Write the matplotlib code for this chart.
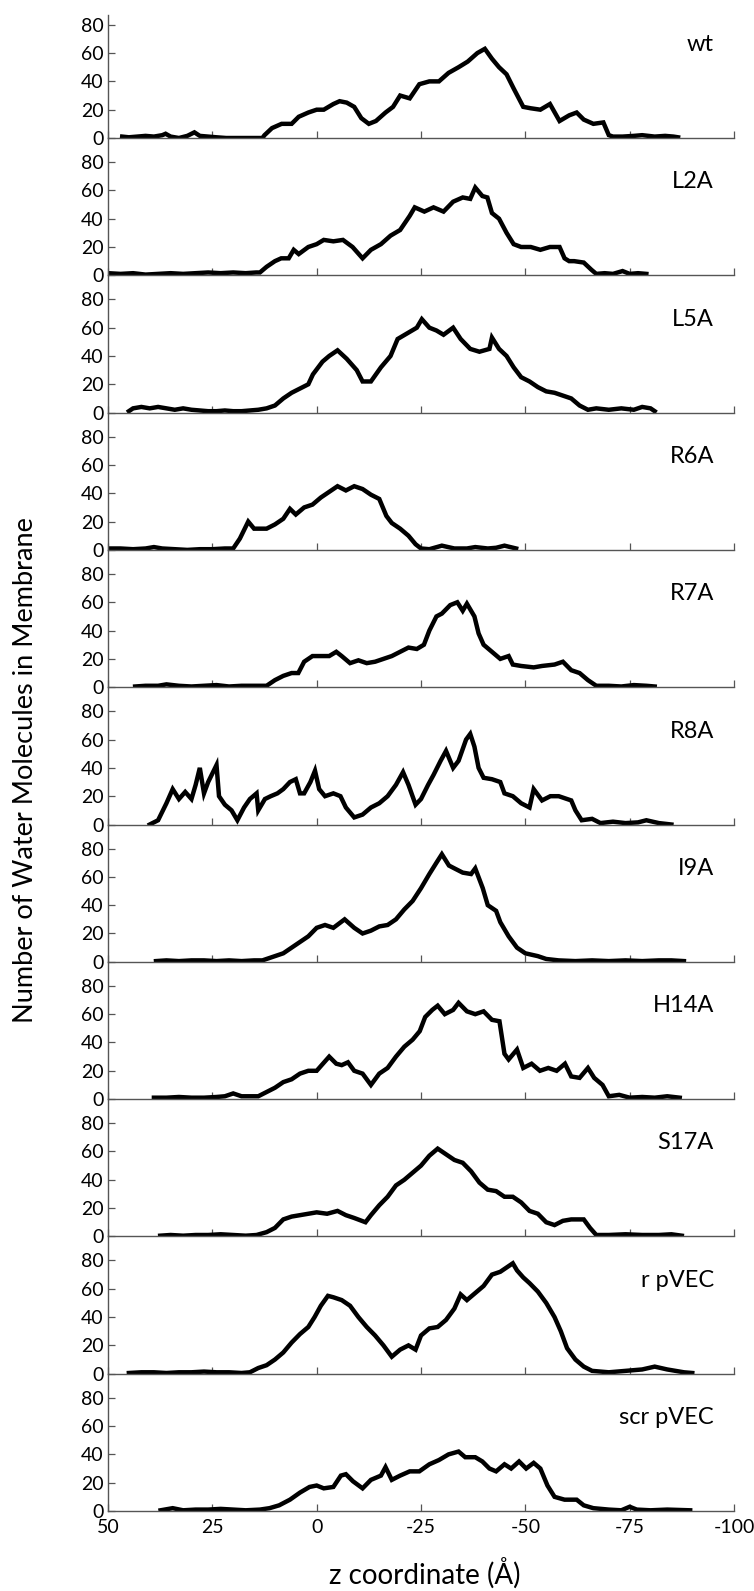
import matplotlib
matplotlib.use('Agg')
import matplotlib.pyplot as plt

plt.rcParams['font.family'] = ['Lato', 'DejaVu Sans']

# z coordinate (A) and number of water molecules
wt_z = [46.6, 45, 43, 41, 39, 37, 36.2, 35, 33, 31, 29.3, 28, 26, 24, 21.7, 19, 16, 13, 12.5, 10.7, 8.4, 6,
        4.3, 2, 0, -1.7, -4, -5.5, -7.2, -9, -10.7, -12.5, -14.2, -16.5, -18.3, -20, -22.3, -24.6, -27, -29.3,
        -31.6, -34, -36.2, -38.5, -40.3, -42, -43.7, -45.5, -47.2, -49.5, -51.3, -53.6, -55.9, -58.2, -60.5,
        -62.3, -64, -66.3, -68.7, -70, -71, -73.3, -76, -78, -81, -83.5, -85.5, -86.6]
wt_n = [1, 0.5, 1, 1.5, 1, 2, 3, 1, 0, 1.5, 4, 1.5, 1, 0.5, 0, 0, 0, 0, 2, 7, 10, 10, 15, 18, 20, 20, 24, 26,
        25, 22, 14, 10, 12, 18, 22, 30, 28, 38, 40, 40, 46, 50, 54, 60, 63, 56, 50, 45, 35, 22, 21, 20, 24, 12,
        16, 18, 13, 10, 11, 2, 1, 1, 1.5, 2, 1, 1.5, 1, 0.5]

l2a_z = [50, 47, 44, 41, 38, 35, 32, 29, 26, 23, 20, 17, 14.5, 13.6, 12, 10, 8.5, 6.7, 5.5, 4.3, 2, 0, -1.7,
         -4, -6.3, -8.6, -11, -13, -15.4, -17.7, -20, -22.3, -23.5, -25.8, -28, -30.4, -32.7, -35, -36.8, -38,
         -39.7, -40.9, -42, -43.7, -45.5, -47.2, -49, -51.3, -53.6, -55.9, -58.2, -59.4, -60.5, -61.7, -64,
         -65.8, -67, -69, -71, -73.3, -75, -77, -79]
l2a_n = [1.5, 1, 1.5, 0.5, 1, 1.5, 1, 1.5, 2, 1.5, 2, 1.5, 2, 2, 6, 10, 12, 12, 18, 15, 20, 22, 25, 24, 25,
         20, 12, 18, 22, 28, 32, 42, 48, 45, 48, 45, 52, 55, 54, 62, 56, 55, 44, 40, 30, 22, 20, 20, 18, 20,
         20, 12, 10, 10, 9, 4, 1, 1.5, 1, 3, 1, 1.5, 1]

l5a_z = [45, 44, 42, 40, 38, 36, 34, 32, 30, 28, 26, 24, 22, 20, 18, 16, 14, 12, 10, 8, 6, 4, 2, 0.9, -1.4,
         -3, -5, -7.2, -9.6, -11, -13, -15.4, -17.7, -19.4, -21.7, -24, -25.2, -27, -28.7, -30.4, -32.7, -34.5,
         -36.8, -39, -41.4, -42, -43.7, -45.5, -47.2, -49, -51, -53, -55, -57, -59, -61, -63, -65, -67, -70,
         -73, -76, -78, -80, -81]
l5a_n = [1, 3, 4, 3, 4, 3, 2, 3, 2, 1.5, 1, 1, 1.5, 1, 1, 1.5, 2, 3, 5, 10, 14, 17, 20, 27, 36, 40, 44, 38,
         30, 22, 22, 32, 40, 52, 56, 60, 66, 60, 58, 55, 60, 52, 45, 43, 45, 53, 45, 40, 32, 25, 22, 18, 15,
         14, 12, 10, 5, 2, 3, 2, 3, 2, 4, 3, 1]

r6a_z = [50, 47, 44, 41, 39, 37, 34, 31, 28, 25, 22, 20, 18.4, 16.4, 15, 12, 10, 8, 6.4, 5, 3, 1, -1, -3, -5,
         -7, -9, -11, -13, -15, -16.7, -18, -20, -22, -23.7, -25, -27, -30, -33, -36, -38, -41, -43, -45, -47.8]
r6a_n = [1, 1, 0.5, 1, 2, 1, 0.5, 0, 0.5, 0.5, 1, 1, 8, 20, 15, 15, 18, 22, 29, 25, 30, 32, 37, 41, 45, 42,
         45, 43, 39, 36, 24, 19, 15, 10, 4, 1, 0.5, 3, 1, 1, 2, 1, 1.5, 3, 1]

r7a_z = [43.5, 41, 38, 36, 33, 30, 27, 24, 21, 18, 15, 12, 10, 8, 6, 4.4, 3, 1, -1, -3, -4.7, -6, -8, -10,
         -12, -14, -16, -18, -20, -22, -24, -25.7, -27, -28.7, -30, -32, -33.7, -35, -36, -37.8, -38.8, -40,
         -42, -44, -46, -47, -49, -52, -54, -57, -59, -61, -63, -65, -67, -70, -73, -76, -79, -81]
r7a_n = [0.5, 1, 1, 2, 1, 0.5, 1, 1.5, 0.5, 1, 1, 1, 5, 8, 10, 10, 18, 22, 22, 22, 25, 22, 17, 19, 17, 18,
         20, 22, 25, 28, 27, 30, 40, 50, 52, 58, 60, 54, 59, 50, 38, 30, 25, 20, 22, 16, 15, 14, 15, 16, 18,
         12, 10, 5, 1, 1, 0.5, 1.5, 1, 0.5]

r8a_z = [40, 38, 36, 34.5, 33, 31.5, 30, 29, 28, 27, 26, 24, 23.4, 22, 20.4, 19, 17.4, 16, 14.4, 14, 12.4, 11,
         9.4, 8, 6.4, 5, 4, 3, 1.5, 0.4, -0.6, -2, -4, -5.7, -7, -9, -11, -13, -15, -17, -19, -20.7, -22,
         -23.7, -25, -26.7, -28, -29.7, -31, -32.7, -34, -35.8, -36.8, -37.8, -38.8, -40, -42, -44, -45, -47,
         -49, -51, -52, -54, -56, -58, -61, -62, -63.5, -66, -68, -71, -74, -77, -79, -82, -85]
r8a_n = [0, 3, 15, 25, 18, 23, 18, 28, 40, 22, 30, 42, 20, 14, 10, 3, 12, 18, 22, 10, 18, 20, 22, 25, 30, 32,
         22, 22, 30, 38, 25, 20, 22, 20, 12, 5, 7, 12, 15, 20, 28, 37, 28, 14, 18, 28, 35, 45, 52, 40, 45, 60,
         64, 55, 40, 33, 32, 30, 22, 20, 15, 12, 25, 17, 20, 20, 17, 10, 3, 4, 1, 2, 1, 1.5, 3, 1, 0]

i9a_z = [38.5, 36, 33, 30, 27, 24, 21, 18, 15, 13, 12, 10, 8, 5, 2, 0, -2, -4, -6.7, -9, -11, -13, -15, -17,
         -19, -21, -23, -25, -27, -28.7, -30, -31.7, -33, -35, -37, -38, -39.8, -41, -43, -44, -46, -48, -50,
         -53, -55, -58, -62, -66, -70, -74, -78, -82, -85, -88]
i9a_n = [0.5, 1, 0.5, 1, 1, 0.5, 1, 0.5, 1, 1, 2, 4, 6, 12, 18, 24, 26, 24, 30, 24, 20, 22, 25, 26, 30, 37,
         43, 52, 62, 70, 76, 68, 66, 63, 62, 66, 52, 40, 36, 28, 18, 10, 6, 4, 2, 1, 0.5, 1, 0.5, 1, 0.5, 1,
         1, 0.5]

h14a_z = [39, 36, 33, 30, 27, 24, 22, 20, 18, 16, 14, 12, 10, 8, 6, 4, 2, 0, -1.5, -3, -4.7, -6, -7.5, -9,
          -11, -13, -15, -17, -19, -21, -23, -24.7, -26, -27.7, -29, -30.7, -32.7, -34, -36, -38, -40, -42,
          -43.8, -45, -46, -48, -49.5, -51.5, -53.5, -55.5, -57.5, -59.5, -61, -63, -65, -66.5, -68.5, -70,
          -72.5, -75, -78, -81, -84, -87]
h14a_n = [1, 1, 1.5, 1, 1, 1.5, 2, 4, 2, 2, 2, 5, 8, 12, 14, 18, 20, 20, 25, 30, 25, 24, 26, 20, 18, 10, 18,
          22, 30, 37, 42, 48, 58, 63, 66, 60, 63, 68, 62, 60, 62, 56, 55, 32, 28, 35, 22, 25, 20, 22, 20, 25,
          16, 15, 22, 15, 10, 2, 3, 1, 1.5, 1, 2, 1]

s17a_z = [37.5, 35, 32, 29, 26, 23, 20, 17, 14.4, 12, 10, 8, 6, 4, 2, 0, -2.5, -5, -7, -9, -11.7, -13, -15,
          -17, -19, -21, -23, -25, -27, -29, -31, -33, -35, -37, -39, -41, -43, -45, -47, -49, -51, -53, -55,
          -57, -59, -61, -64, -65.5, -67, -70, -74, -78, -82, -85, -87.5]
s17a_n = [0.5, 1, 0.5, 1, 1, 1.5, 1, 0.5, 1, 3, 6, 12, 14, 15, 16, 17, 16, 18, 15, 13, 10, 15, 22, 28, 36,
          40, 45, 50, 57, 62, 58, 54, 52, 46, 38, 33, 32, 28, 28, 24, 18, 16, 10, 8, 11, 12, 12, 6, 1, 1, 1.5,
          1, 1, 1.5, 0.5]

rpvec_z = [45, 42, 39, 36, 33, 30, 27, 24, 21, 18, 16, 14, 12, 10, 8, 6, 4, 2, 0.5, -1, -2.7, -4, -6, -8,
           -10, -12, -14, -16, -18, -20, -22, -23.7, -25, -27, -29, -31, -33, -34.5, -36, -38, -40, -42, -44,
           -45.5, -47, -48, -49.5, -51, -53, -55, -57, -58.5, -60, -62, -64, -66, -70, -74, -78, -81, -84,
           -88, -90]
rpvec_n = [0.5, 1, 1, 0.5, 1, 1, 1.5, 1, 1, 0.5, 1, 4, 6, 10, 15, 22, 28, 33, 40, 48, 55, 54, 52, 48, 40,
           33, 27, 20, 12, 17, 20, 17, 27, 32, 33, 38, 46, 56, 52, 57, 62, 70, 72, 75, 78, 73, 68, 64, 58, 50,
           40, 30, 18, 10, 5, 2, 1, 2, 3, 5, 3, 1, 0.5]

scr_z = [37.4, 34.5, 32, 29, 26, 23, 20, 17, 13.6, 11.3, 9, 6.4, 4, 1.7, 0, -1.7, -4, -5.8, -7, -8.7, -11,
         -13, -15.4, -16.5, -18, -20, -22.3, -24.6, -27, -29.3, -31.6, -34, -35.6, -38, -39.7, -41.4, -43,
         -45, -46.6, -48.5, -50.2, -52, -53.6, -55.3, -57, -59.4, -62.3, -64, -66.3, -70, -73, -75, -76.7,
         -80, -84, -89.5]
scr_n = [0.5, 2, 0.5, 1, 1, 1.5, 1, 0.5, 1, 2, 4, 8, 13, 17, 18, 16, 17, 25, 26, 21, 16, 22, 25, 31, 22,
         25, 28, 28, 33, 36, 40, 42, 38, 38, 35, 30, 28, 33, 30, 35, 30, 34, 30, 18, 10, 8, 8, 4, 2, 1, 0.5,
         3, 1, 0.5, 1, 0.5]

names = ['wt', 'L2A', 'L5A', 'R6A', 'R7A', 'R8A', 'I9A', 'H14A', 'S17A', 'r pVEC', 'scr pVEC']
series = [(wt_z, wt_n), (l2a_z, l2a_n), (l5a_z, l5a_n), (r6a_z, r6a_n), (r7a_z, r7a_n), (r8a_z, r8a_n),
          (i9a_z, i9a_n), (h14a_z, h14a_n), (s17a_z, s17a_n), (rpvec_z, rpvec_n), (scr_z, scr_n)]

x_ticks = [50, 25, 0, -25, -50, -75, -100]
y_ticks = [0, 20, 40, 60, 80]

W, H = 754, 1591
fig = plt.figure(figsize=(W / 100, H / 100), dpi=100)

left = 108 / W
width = (734 - 108) / W
bottom0 = (H - 1511) / H
ph = 137.3 / H
axcol = '#555555'

for i, (name, (z, n)) in enumerate(zip(names, series)):
    k = len(names) - 1 - i
    ax = fig.add_axes([left, bottom0 + k * ph, width, ph])
    ax.plot(z, n, color='black', lw=3.2, solid_joinstyle='miter')
    ax.set_xlim(50, -100)
    ax.set_ylim(0, 97)
    ax.set_xticks(x_ticks)
    ax.set_yticks(y_ticks)
    for s in ['top', 'right']:
        ax.spines[s].set_visible(False)
    for s in ['left', 'bottom']:
        ax.spines[s].set_color(axcol)
        ax.spines[s].set_linewidth(1.0)
    if i == 0:
        ax.spines['left'].set_bounds(0, 87)
    ax.tick_params(direction='in', length=5, width=0.9, color=axcol, labelsize=14, pad=3)
    ax.tick_params(axis='x', pad=6)
    if i < len(names) - 1:
        ax.set_xticklabels([])
    else:
        ax.set_xticklabels([str(t) for t in x_ticks])
    ax.text(0.968, 66, name, transform=ax.get_yaxis_transform(), ha='right', va='center', fontsize=17)
    ax.patch.set_alpha(0)

fig.text(26 / W, (H - 770) / H, 'Number of Water Molecules in Membrane', rotation=90,
         ha='center', va='center', fontsize=19.5)
fig.text(425 / W, (H - 1573) / H, 'z coordinate (Å)', ha='center', va='center', fontsize=20)

fig.savefig('out.png', dpi=100)
